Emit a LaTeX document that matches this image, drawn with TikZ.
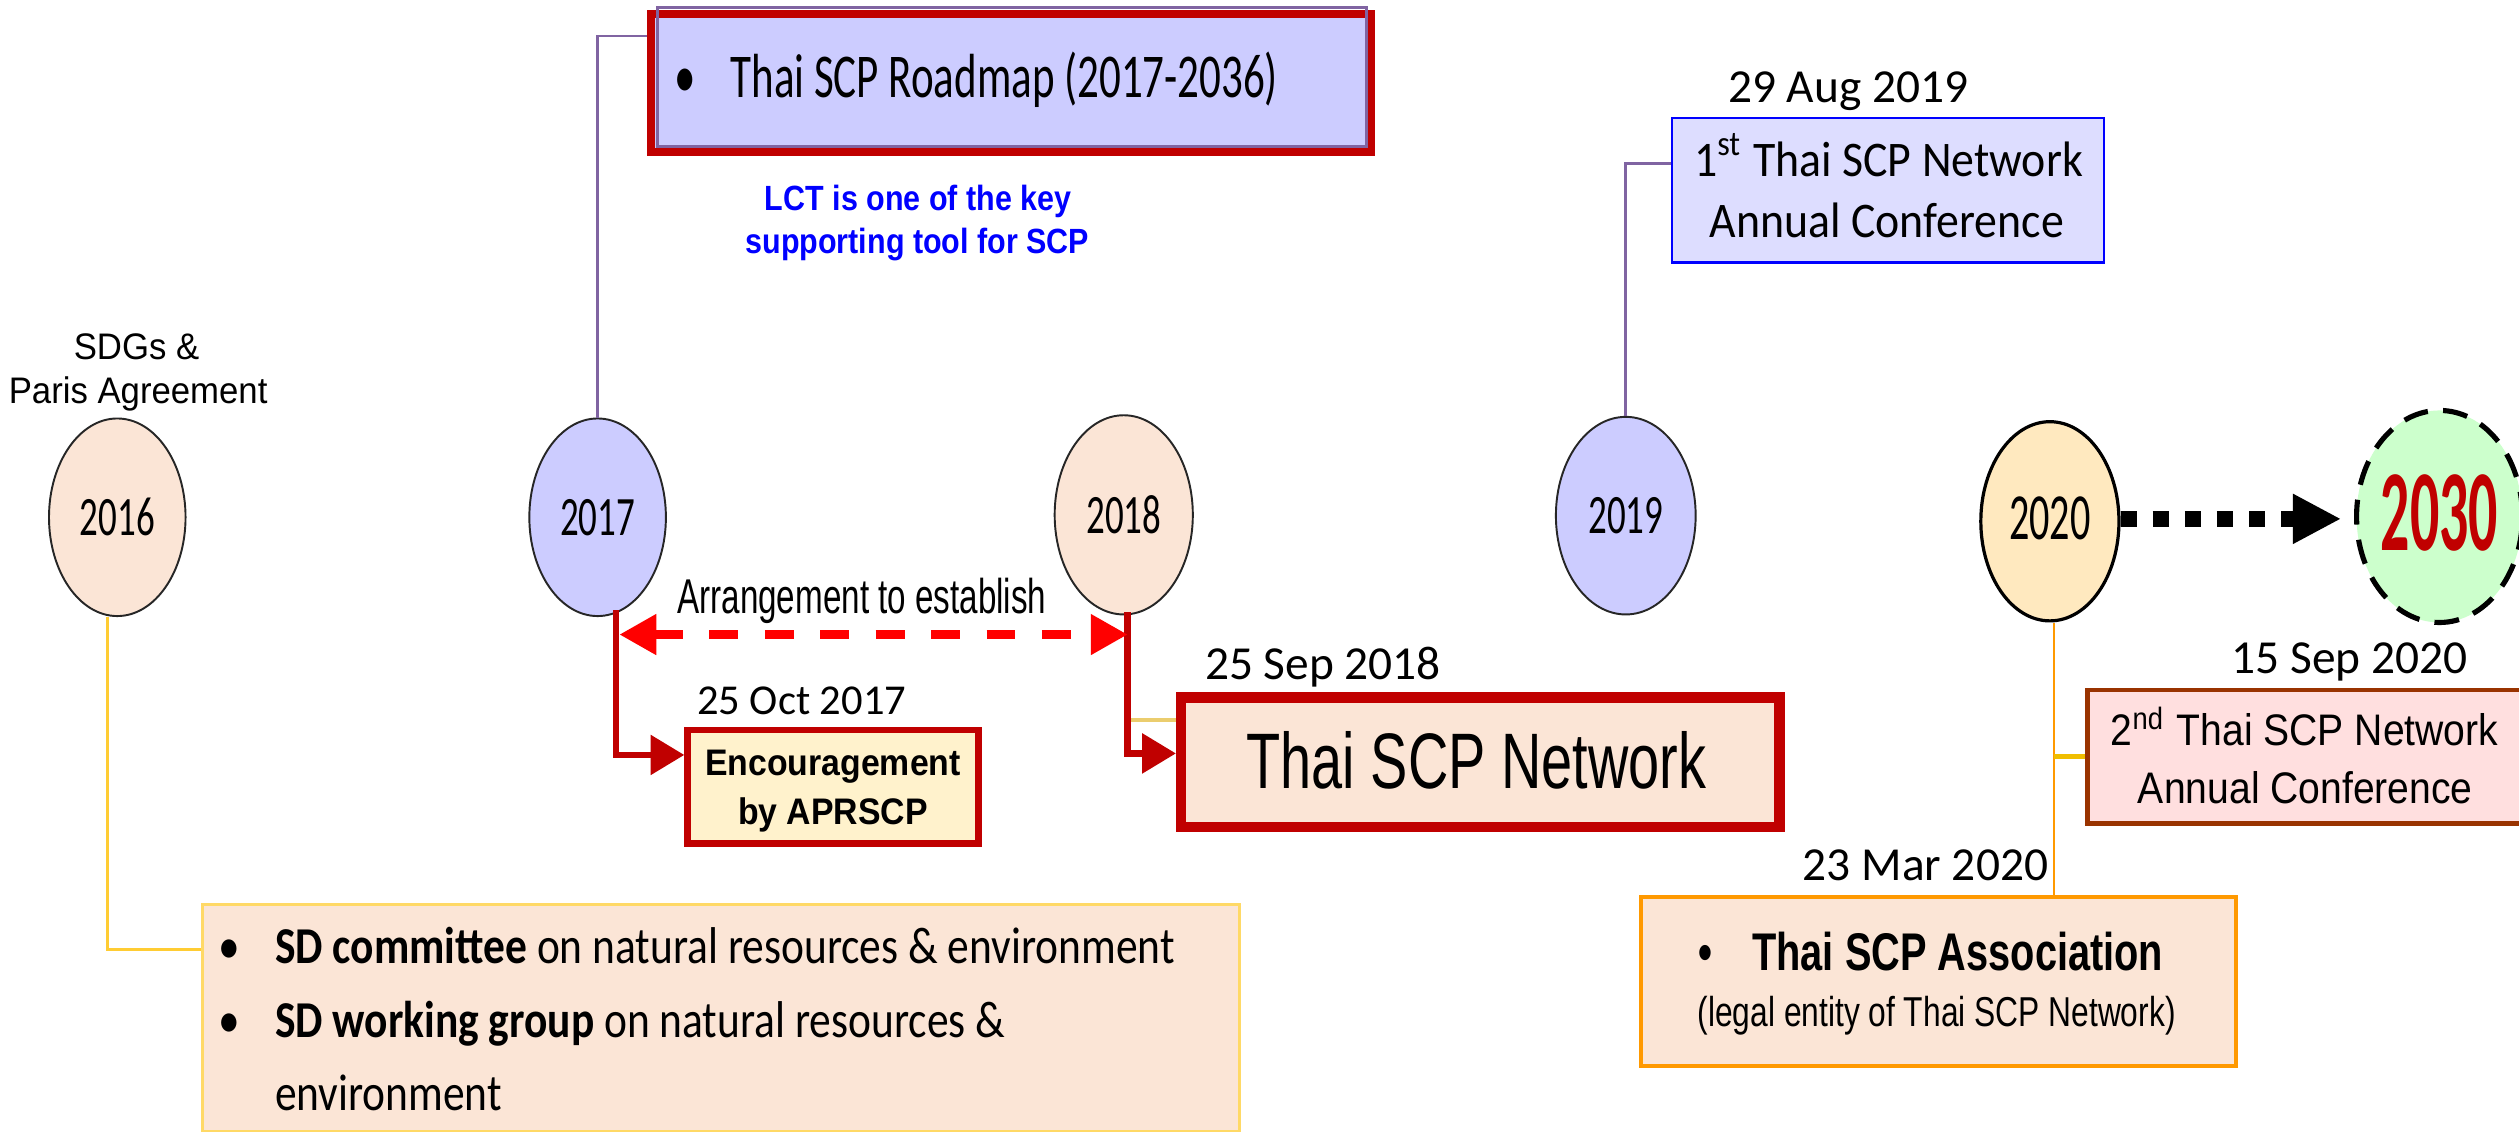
\documentclass[tikz,border=0pt]{standalone}
\usepackage{fontspec}
\setmainfont{Liberation Sans}
\newfontfamily\calfont{Carlito}
\newfontfamily\arifont{Liberation Sans}
\usetikzlibrary{arrows.meta,shapes.geometric,backgrounds}
\newcommand\fpx[1]{\edef\tmpfs{\fpeval{#1*0.28453}}\fontsize{\tmpfs pt}{\fpeval{\tmpfs*1.2}pt}\selectfont}
\newcommand\sx[1]{\addfontfeatures{FakeStretch=#1}}
\definecolor{peach}{RGB}{251,229,214}
\definecolor{lav}{RGB}{204,204,255}
\definecolor{lavlight}{RGB}{221,221,255}
\definecolor{yelfill}{RGB}{255,233,191}
\definecolor{lgreen}{RGB}{204,255,204}
\definecolor{dred}{RGB}{192,0,0}
\definecolor{purp}{RGB}{128,100,162}
\definecolor{encfill}{RGB}{255,242,204}
\definecolor{cblue}{RGB}{0,0,255}
\definecolor{brownb}{RGB}{153,51,0}
\definecolor{pinkf}{RGB}{255,223,223}
\definecolor{orng}{RGB}{255,153,0}
\definecolor{goldl}{RGB}{255,204,51}
\definecolor{goldstub}{RGB}{240,190,0}
\definecolor{sdborder}{RGB}{255,217,102}
\definecolor{paleyel}{RGB}{235,205,110}
\begin{document}
\begin{tikzpicture}[x=0.1mm,y=-0.1mm,
  yrnode/.style={ellipse, draw=black!85, line width=0.12mm, inner sep=0pt,
    minimum width=8.5mm, minimum height=12.3mm, font={\calfont\sx{0.665}\fpx{34.6}}},
  boxn/.style={rectangle, inner sep=0pt},
  txt/.style={anchor=base, inner sep=0pt},
  txtw/.style={anchor=base west, inner sep=0pt},
  purpline/.style={draw=purp, line width=0.17mm},
  dline/.style={draw=dred, line width=0.42mm},
  dtip/.style={-{Triangle[length=2.1mm,width=2.4mm]}},
  datelbl/.style={anchor=base, inner sep=0pt, font={\calfont\fpx{29.5}}},
]
\useasboundingbox (0,0) rectangle (1568,705);
\fill[white] (0,0) rectangle (1568,705);

% ---- year ellipses
\node[yrnode, fill=peach] (y16) at (73,322) {2016};
\node[yrnode, fill=lav] (y17) at (372,322) {2017};
\node[yrnode, fill=peach, minimum width=8.6mm, minimum height=12.4mm] (y18) at (699.5,320.5) {2018};
\node[yrnode, fill=lav, minimum width=8.7mm, minimum height=12.3mm] (y19) at (1012,321) {2019};
\node[yrnode, fill=yelfill, draw=black, line width=0.2mm, minimum width=8.6mm, minimum height=12.4mm,
  font={\calfont\sx{0.61}\fpx{41}}] (y20) at (1276,324.5) {\raisebox{0.35mm}{2020}};
\node[ellipse, fill=lgreen, draw=black, line width=0.32mm, dash pattern=on 1.55mm off 0.95mm,
  minimum width=9.2mm, minimum height=13.2mm, inner sep=0pt, text=dred,
  font={\calfont\bfseries\sx{0.5}\fpx{72}}] (y30) at (1518.5,321.5) {\raisebox{0.5mm}{2030}};

% ---- timeline
\coordinate (tl0) at (21,323);
\begin{scope}[on background layer]
  \draw[line width=1mm] (tl0) -- (tl0 -| y20.center);
\end{scope}
\draw[line width=1mm, dash pattern=on 1mm off 1mm, -{Triangle[length=3mm,width=2.9mm]}, shorten >=0.8mm]
  (y20.east |- tl0) -- (y30.west |- tl0);

% ---- SDGs label
\node[txt, font={\arifont\sx{0.94}\fpx{23}}] (sdg1) at (85,224) {SDGs \&};
\node[txt, font={\arifont\sx{0.94}\fpx{23}}] (sdg2) at (86,251) {Paris Agreement};

% ---- Roadmap box
\node[boxn, draw=dred, line width=0.5mm, fill=lav, minimum width=44.8mm, minimum height=8.58mm] (road) at (629.5,51.6) {};
\draw[draw=purp, line width=0.2mm] (409.5,4.8) rectangle (850.5,91);
\node[txtw, font={\calfont\sx{0.69}\fpx{38.8}}] (roadtxt) at (419.3,61) {\makebox[3.47mm][l]{•}Thai SCP Roadmap (2017-2036)};
\node[txt, text=cblue, font={\arifont\bfseries\sx{0.87}\fpx{21.8}}] (lct1) at (571.5,131) {LCT is one of the key};
\node[txt, text=cblue, font={\arifont\bfseries\sx{0.87}\fpx{21.8}}] (lct2) at (571,158) {supporting tool for SCP};
\draw[purpline] (y17.north) |- ([yshift=2.92mm]road.west);

% ---- 1st conference
\node[boxn, draw=cblue, line width=0.13mm, fill=lavlight, minimum width=26.9mm, minimum height=8.98mm] (conf1) at (1175,118.5) {};
\node[txt, font={\calfont\sx{0.92}\fpx{31}}] (c1a) at (1175.5,110) {1\textsuperscript{st} Thai SCP Network};
\node[txt, font={\calfont\sx{0.92}\fpx{31}}] (c1b) at (1174.5,148) {Annual Conference};
\node[datelbl] (d19) at (1150.5,64) {29 Aug 2019};
\draw[purpline] (y19.north) |- ([yshift=1.68mm]conf1.west);

% ---- Arrangement
\node[txt, font={\arifont\sx{0.68}\fpx{30.4}}] (arr) at (536.5,381.7) {Arrangement to establish};
\coordinate (c17) at (383.5,380);
\coordinate (c18) at (702,381);
\coordinate (a17) at (383.5,395);
\coordinate (a18) at (702,395);

% ---- Encouragement box
\node[boxn, draw=dred, line width=0.4mm, fill=encfill, minimum width=18.1mm, minimum height=7.05mm] (enc) at (518.5,489.75) {};
\node[txt, font={\arifont\bfseries\sx{0.915}\fpx{23}}] (enc1) at (518.5,482.5) {Encouragement};
\node[txt, font={\arifont\bfseries\sx{0.915}\fpx{23}}] (enc2) at (518.5,513.5) {by APRSCP};
\node[anchor=base, inner sep=0pt, font={\calfont\fpx{26.5}}] (d17) at (499,445) {25 Oct 2017};

% ---- Thai SCP Network box
\node[boxn, draw=dred, line width=0.65mm, fill=peach, minimum width=37.25mm, minimum height=8.05mm] (net) at (921.5,474.5) {};
\node[txt, font={\arifont\sx{0.71}\fpx{49}}] (nett) at (919,490.7) {Thai SCP Network};
\node[datelbl] (d18) at (823.5,423) {25 Sep 2018};

% ---- connectors 2017/2018
\draw[dline, dtip] (c17) |- ([yshift=1.98mm]enc.west);
\draw[draw=paleyel, line width=0.25mm] (c18 |- 0,448) -- (net.west |- 0,448);
\draw[dline, dtip] (c18) |- ([yshift=0.55mm]net.west);
\draw[draw=red, line width=0.56mm, dash pattern=on 1.8mm off 1.65mm,
  {Triangle[length=2.3mm,width=2.4mm]}-{Triangle[length=2.3mm,width=2.4mm]}, shorten <=0.2mm]
  (a17) -- (a18);

% ---- SD box (2016)
\node[boxn, draw=sdborder, line width=0.17mm, fill=peach, minimum width=64.56mm, minimum height=14.1mm] (sd) at (448.8,633.5) {};
\node[txtw, font={\calfont\sx{0.84}\fpx{32.2}}] (sd1) at (135.3,599.5) {\makebox[3.52mm][l]{•}\textbf{SD committee} on natural resources \& environment};
\node[txtw, font={\calfont\sx{0.84}\fpx{32.2}}] (sd2) at (135.3,646) {\makebox[3.52mm][l]{•}\textbf{SD working group} on natural resources \&};
\node[txtw, font={\calfont\sx{0.84}\fpx{32.2}}] (sd3) at (170.5,691) {environment};
\draw[draw=goldl, line width=0.17mm] ([xshift=-0.6mm]y16.south) |- ([yshift=4.25mm]sd.west);

% ---- 2020 items
\node[boxn, draw=brownb, line width=0.3mm, fill=pinkf, minimum width=28.05mm, minimum height=8.3mm] (conf2) at (1439.75,471) {};
\node[txt, font={\arifont\sx{0.885}\fpx{27.5}}] (c2a) at (1434.5,464) {2\textsuperscript{nd} Thai SCP Network};
\node[txt, font={\arifont\sx{0.885}\fpx{27.5}}] (c2b) at (1435,500) {Annual Conference};
\node[datelbl] (d20b) at (1462.5,419) {15 Sep 2020};

\node[boxn, draw=orng, line width=0.25mm, fill=peach, minimum width=37.05mm, minimum height=10.55mm] (assoc) at (1206.5,611) {};
\node[txtw, font={\arifont\bfseries\sx{0.75}\fpx{33}}] (as1) at (1056.7,604) {\makebox[3.33mm][l]{•}Thai SCP Association};
\node[txt, font={\arifont\sx{0.76}\fpx{26}}] (as2) at (1205.5,639) {(legal entity of Thai SCP Network)};
\node[datelbl] (d20a) at (1198.5,548) {23 Mar 2020};

\coordinate (c20) at (1278.5,388);
\draw[draw=orng, line width=0.17mm] (c20) -- (c20 |- assoc.north);
\draw[draw=goldstub, line width=0.3mm] (c20 |- conf2.west) -- (conf2.west);
\end{tikzpicture}
\end{document}
